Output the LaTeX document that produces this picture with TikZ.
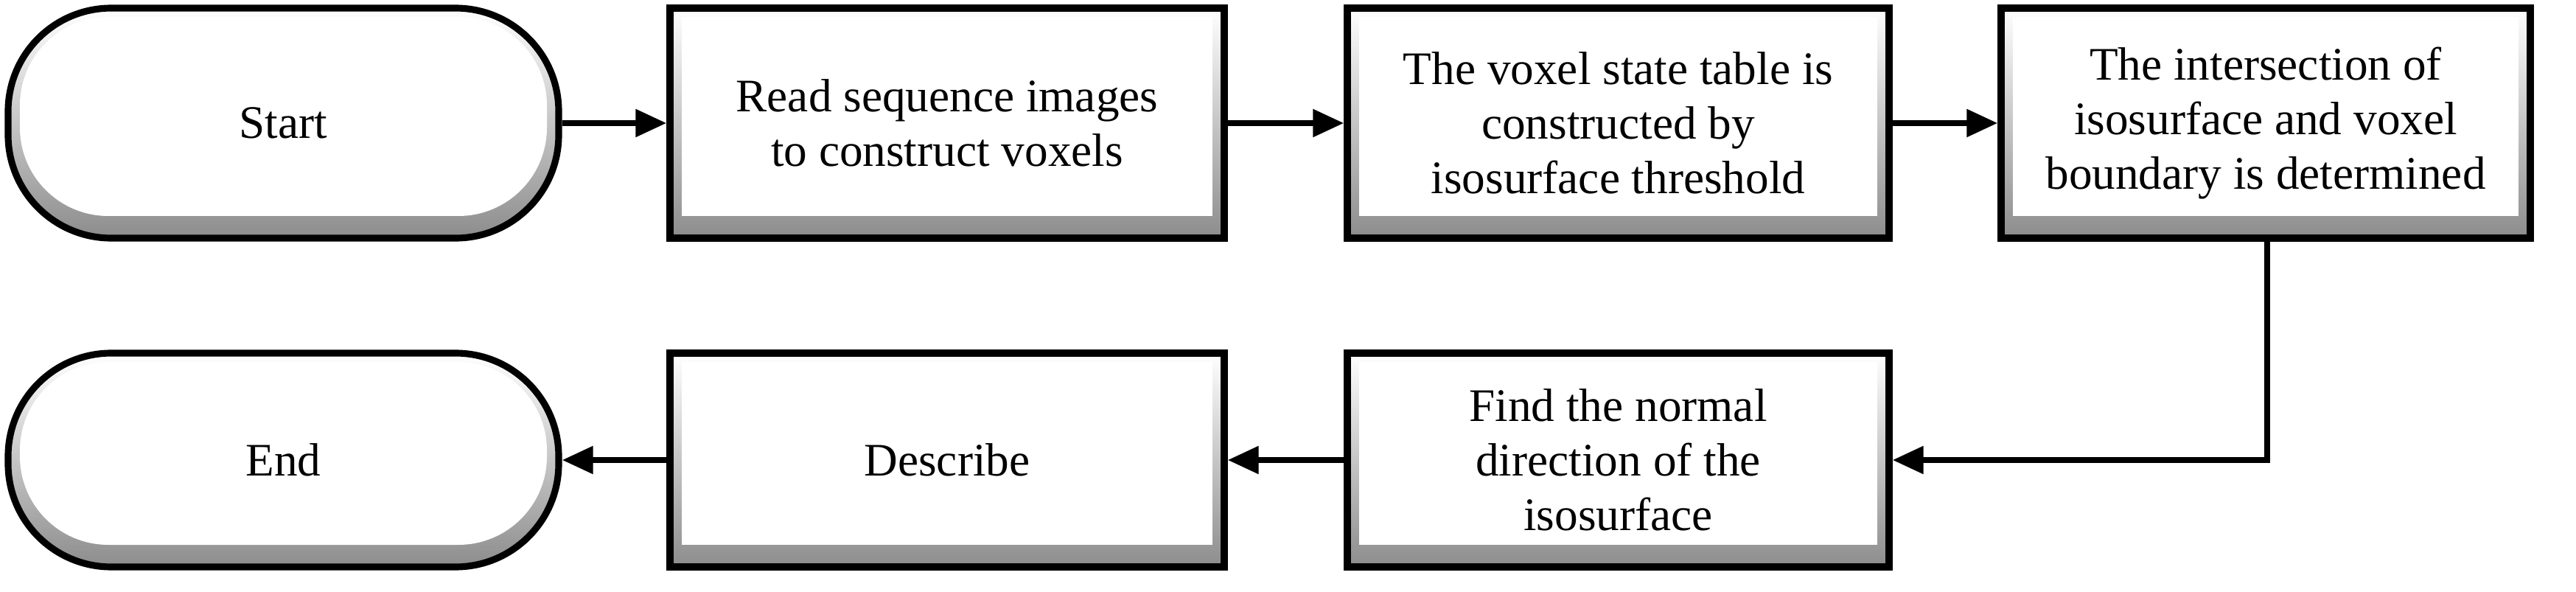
\documentclass[tikz,border=0pt]{standalone}
\usepackage{fontspec}
\setmainfont{Liberation Serif}
\usetikzlibrary{arrows.meta}
\begin{document}
\begin{tikzpicture}[
  bev/.style={draw=black, line width=2.6pt, align=center, inner sep=0pt,
    font=\fontsize{18}{21}\selectfont,
    path picture={
      \shade[top color=white, bottom color=black!45]
        (path picture bounding box.south west) rectangle (path picture bounding box.north east);
      \fill[white, rounded corners=#1]
        ([shift={(0.16,0.3)}]path picture bounding box.south west) rectangle
        ([shift={(-0.16,-0.12)}]path picture bounding box.north east);
    }},
  box/.style={bev=0pt, rectangle},
  term/.style={bev=1.2cm, rectangle, rounded corners=1.4cm},
  arr/.style={line width=2.4pt, -{Triangle[length=0.42cm,width=0.36cm]}}
]
\useasboundingbox (0,0) rectangle (34.95,8.02);
\node[term, minimum width=7.47cm, minimum height=3.12cm] (start) at (3.845,6.35) {Start};
\node[box, minimum width=7.52cm, minimum height=3.12cm] (b1) at (12.85,6.35) {Read sequence images\\to construct voxels};
\node[box, minimum width=7.35cm, minimum height=3.12cm] (b2) at (21.955,6.35) {The voxel state table is\\constructed by\\isosurface threshold};
\node[box, minimum width=7.18cm, minimum height=3.12cm] (b3) at (30.74,6.35) {The intersection of\\isosurface and voxel\\boundary is determined};
\node[term, minimum width=7.47cm, minimum height=2.9cm] (end) at (3.845,1.78) {End};
\node[box, minimum width=7.52cm, minimum height=2.9cm] (desc) at (12.85,1.78) {Describe};
\node[box, minimum width=7.35cm, minimum height=2.9cm] (find) at (21.955,1.78) {Find the normal\\direction of the\\isosurface};
\coordinate (c1) at (30.76,1.78);
\draw[arr] (start) -- (b1);
\draw[arr] (b1) -- (b2);
\draw[arr] (b2) -- (b3);
\draw[arr] (b3.south -| c1) -- (c1) -- (find);
\draw[arr] (find) -- (desc);
\draw[arr] (desc) -- (end);
\end{tikzpicture}
\end{document}
